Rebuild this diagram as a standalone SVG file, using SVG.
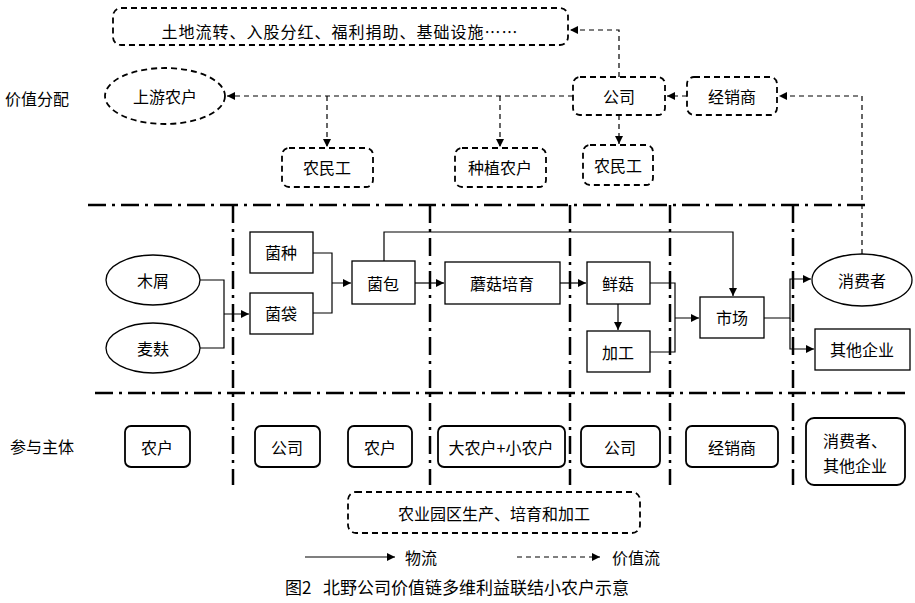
<svg xmlns="http://www.w3.org/2000/svg" width="915" height="603" viewBox="0 0 915 603">
<style>
text{font-family:"Noto Sans CJK SC","Liberation Sans",sans-serif;font-size:16px;fill:#000;text-anchor:middle;dominant-baseline:central}
.lab{text-anchor:start}
.b{fill:#fff;stroke:#000;stroke-width:1.3}
.d{fill:#fff;stroke:#000;stroke-width:1.8;stroke-dasharray:6,4}
.r{fill:#fff;stroke:#000;stroke-width:1.8}
.c{fill:none;stroke:#000;stroke-width:1.2}
.v{fill:none;stroke:#000;stroke-width:1.2;stroke-dasharray:5,4}
.dd{fill:none;stroke:#000;stroke-width:2.5;stroke-dasharray:18,6,3,6}
</style>
<defs>
<marker id="a" viewBox="0 0 10 10" refX="10" refY="5" markerWidth="8" markerHeight="8" orient="auto" markerUnits="userSpaceOnUse"><path d="M0,0L10,5L0,10z" fill="#000"/></marker>
</defs>
<g id="grid">
<path class="dd" d="M88,205H870M95,393H910M233,205V485M430,205V485M570,205V485M670,205V485M793,205V485"/>
</g>
<text class="lab" x="5" y="98">价值分配</text>
<text class="lab" x="10" y="446">参与主体</text>
<g id="connectors">
<path class="v" d="M573,96H227" marker-end="url(#a)"/>
<path class="v" d="M327,96V147" marker-end="url(#a)"/>
<path class="v" d="M500,96V147" marker-end="url(#a)"/>
<path class="v" d="M619,115V144" marker-end="url(#a)"/>
<path class="v" d="M619,77V30H570" marker-end="url(#a)"/>
<path class="v" d="M687,96H667" marker-end="url(#a)"/>
<path class="v" d="M862,254V96H779" marker-end="url(#a)"/>
<path class="c" d="M200,280H224V348H200M224,314H249" marker-end="url(#a)"/>
<path class="c" d="M313,253H332V313H313M332,283H351" marker-end="url(#a)"/>
<path class="c" d="M415,283H444" marker-end="url(#a)"/>
<path class="c" d="M384,261V232H733V296" marker-end="url(#a)"/>
<path class="c" d="M560,283H586" marker-end="url(#a)"/>
<path class="c" d="M618,304V330" marker-end="url(#a)"/>
<path class="c" d="M650,283H675V352H650M675,318H699" marker-end="url(#a)"/>
<path class="c" d="M764,318H790V279H811" marker-end="url(#a)"/>
<path class="c" d="M790,318V349H814" marker-end="url(#a)"/>
<path class="c" d="M305,557H395" marker-end="url(#a)"/>
<path class="v" d="M517,557H600" marker-end="url(#a)"/>
</g>
<g id="top"><rect class="d" x="113" y="8" width="455" height="37" rx="8"/><text x="340" y="31" style="letter-spacing:1px">土地流转、入股分红、福利捐助、基础设施……</text></g>
<g id="upstream"><ellipse class="d" cx="165" cy="96" rx="60" ry="28"/><text x="165" y="96">上游农户</text></g>
<g id="company"><rect class="d" x="573" y="77" width="92" height="38" rx="7"/><text x="619" y="96">公司</text></g>
<g id="dealer"><rect class="d" x="687" y="77" width="90" height="38" rx="7"/><text x="732" y="96">经销商</text></g>
<g id="worker1"><rect class="d" x="282" y="148" width="91" height="39" rx="7"/><text x="327" y="167">农民工</text></g>
<g id="grower"><rect class="d" x="455" y="148" width="91" height="39" rx="7"/><text x="500" y="167">种植农户</text></g>
<g id="worker2"><rect class="d" x="583" y="145" width="70" height="40" rx="7"/><text x="618" y="165">农民工</text></g>
<g id="sawdust"><ellipse class="b" cx="153" cy="280" rx="47" ry="25"/><text x="153" y="280">木屑</text></g>
<g id="bran"><ellipse class="b" cx="153" cy="348" rx="47" ry="25"/><text x="153" y="348">麦麸</text></g>
<g id="seed"><rect class="b" x="250" y="232" width="63" height="41"/><text x="281" y="252">菌种</text></g>
<g id="bag"><rect class="b" x="250" y="293" width="63" height="41"/><text x="281" y="313">菌袋</text></g>
<g id="pack"><rect class="b" x="352" y="261" width="63" height="43"/><text x="383" y="283">菌包</text></g>
<g id="grow"><rect class="b" x="445" y="262" width="115" height="42"/><text x="502" y="283">蘑菇培育</text></g>
<g id="fresh"><rect class="b" x="587" y="262" width="63" height="42"/><text x="618" y="283">鲜菇</text></g>
<g id="proc"><rect class="b" x="587" y="331" width="63" height="41"/><text x="618" y="352">加工</text></g>
<g id="market"><rect class="b" x="700" y="297" width="64" height="41"/><text x="732" y="317">市场</text></g>
<g id="consumer"><ellipse class="b" cx="862" cy="280" rx="50" ry="26"/><text x="862" y="280">消费者</text></g>
<g id="other"><rect class="b" x="815" y="329" width="95" height="41"/><text x="862" y="349">其他企业</text></g>
<g id="p1"><rect class="r" x="125" y="426" width="65" height="41" rx="6"/><text x="157" y="447">农户</text></g>
<g id="p2"><rect class="r" x="255" y="426" width="65" height="41" rx="6"/><text x="287" y="447">公司</text></g>
<g id="p3"><rect class="r" x="348" y="426" width="64" height="41" rx="6"/><text x="380" y="447">农户</text></g>
<g id="p4"><rect class="r" x="438" y="426" width="127" height="41" rx="6"/><text x="501" y="447">大农户+小农户</text></g>
<g id="p5"><rect class="r" x="581" y="426" width="79" height="41" rx="6"/><text x="620" y="447">公司</text></g>
<g id="p6"><rect class="r" x="686" y="426" width="92" height="41" rx="6"/><text x="732" y="447">经销商</text></g>
<g id="p7"><rect class="r" x="806" y="418" width="99" height="67" rx="8"/><text x="855" y="440">消费者、</text><text x="855" y="465">其他企业</text></g>
<g id="park"><rect class="d" x="348" y="492" width="292" height="41" rx="8"/><text x="494" y="513">农业园区生产、培育和加工</text></g>
<text class="lab" x="405" y="557">物流</text>
<text class="lab" x="612" y="557">价值流</text>
<text x="457" y="586" xml:space="preserve" style="font-size:17px">图2   北野公司价值链多维利益联结小农户示意</text>
</svg>
